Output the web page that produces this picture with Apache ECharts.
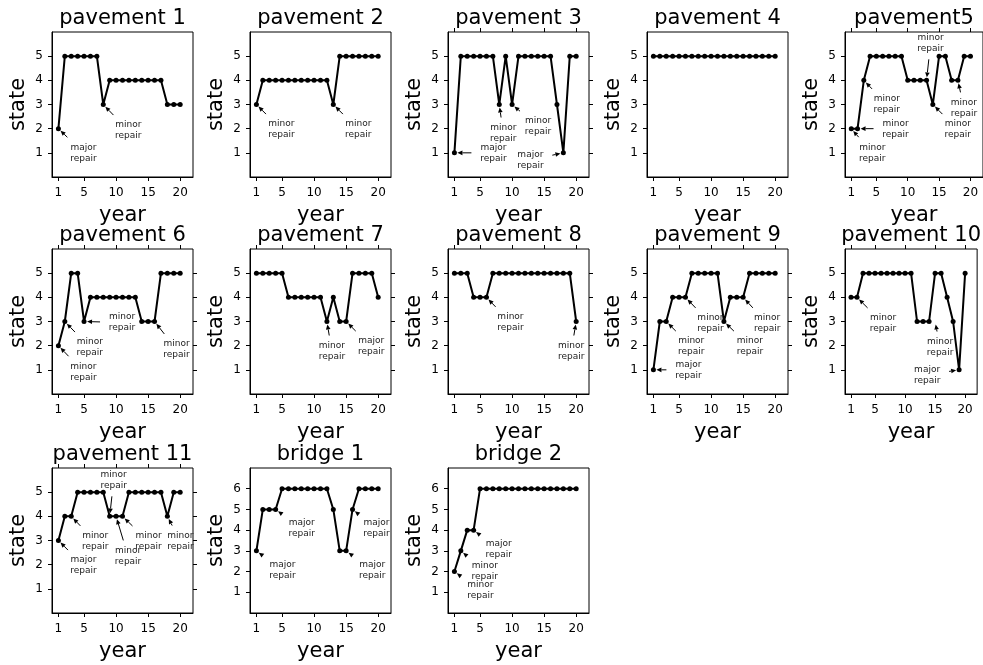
<!DOCTYPE html>
<html><head><meta charset="utf-8">
<script src="https://cdn.jsdelivr.net/npm/echarts@6/dist/echarts.min.js"></script>
<style>html,body{margin:0;padding:0;background:#fff}#c{width:983px;height:665px}</style>
</head><body><div id="c"></div>
<script>
const titles = ['pavement 1','pavement 2','pavement 3','pavement 4','pavement5',
  'pavement 6','pavement 7','pavement 8','pavement 9','pavement 10',
  'pavement 11','bridge 1','bridge 2'];
const years = [1,2,3,4,5,6,7,8,9,10,11,12,13,14,15,16,17,18,19,20];
const xTicks = [1,5,10,15,20];
const pavementTicks = [1,2,3,4,5];
const bridgeTicks = [1,2,3,4,5,6];

const pavement1  = [2,5,5,5,5,5,5,3,4,4,4,4,4,4,4,4,4,3,3,3];
const pavement2  = [3,4,4,4,4,4,4,4,4,4,4,4,3,5,5,5,5,5,5,5];
const pavement3  = [1,5,5,5,5,5,5,3,5,3,5,5,5,5,5,5,3,1,5,5];
const pavement4  = [5,5,5,5,5,5,5,5,5,5,5,5,5,5,5,5,5,5,5,5];
const pavement5  = [2,2,4,5,5,5,5,5,5,4,4,4,4,3,5,5,4,4,5,5];
const pavement6  = [2,3,5,5,3,4,4,4,4,4,4,4,4,3,3,3,5,5,5,5];
const pavement7  = [5,5,5,5,5,4,4,4,4,4,4,3,4,3,3,5,5,5,5,4];
const pavement8  = [5,5,5,4,4,4,5,5,5,5,5,5,5,5,5,5,5,5,5,3];
const pavement9  = [1,3,3,4,4,4,5,5,5,5,5,3,4,4,4,5,5,5,5,5];
const pavement10 = [4,4,5,5,5,5,5,5,5,5,5,3,3,3,5,5,4,3,1,5];
const pavement11 = [3,4,4,5,5,5,5,5,4,4,4,5,5,5,5,5,5,4,5,5];
const bridge1    = [3,5,5,5,6,6,6,6,6,6,6,6,5,3,3,5,6,6,6,6];
const bridge2    = [2,3,4,4,6,6,6,6,6,6,6,6,6,6,6,6,6,6,6,6];

const allSeries = [pavement1,pavement2,pavement3,pavement4,pavement5,pavement6,pavement7,
  pavement8,pavement9,pavement10,pavement11,bridge1,bridge2];
const yMaxes = [6,6,6,6,6,6,6,6,6,6,6,7,7];

// annotations: [text, x, y, text offset dx (px), text offset dy (px)]
const annotations = [
  [['major\nrepair',1,2,25,24],['minor\nrepair',8,3,25,26]],
  [['minor\nrepair',1,3,25,25],['minor\nrepair',13,3,25,25]],
  [['major\nrepair',1,1,39,0],['minor\nrepair',8,3,4,29],['minor\nrepair',10,3,26,22],['major\nrepair',18,1,-33,7]],
  [],
  [['minor\nrepair',1,2,21,24],['minor\nrepair',2,2,38,0],['minor\nrepair',3,4,23,24],['minor\nrepair',13,4,4,-37],['minor\nrepair',14,3,25,25],['minor\nrepair',18,4,6,28]],
  [['minor\nrepair',1,2,25,26],['minor\nrepair',2,3,25,26],['minor\nrepair',5,3,38,1],['minor\nrepair',16,3,22,28]],
  [['minor\nrepair',12,3,5,30],['major\nrepair',15,3,25,25]],
  [['minor\nrepair',6,4,24,25],['minor\nrepair',20,3,-5,30]],
  [['major\nrepair',1,1,35,0],['minor\nrepair',3,3,25,25],['minor\nrepair',6,4,25,26],['minor\nrepair',12,3,26,25],['minor\nrepair',15,4,24,26]],
  [['minor\nrepair',2,4,26,26],['minor\nrepair',15,3,5,26],['major\nrepair',19,1,-32,5]],
  [['major\nrepair',1,3,25,25],['minor\nrepair',3,4,24,25],['minor\nrepair',9,4,4,-36],['minor\nrepair',10,4,12,40],['minor\nrepair',11,4,26,25],['minor\nrepair',18,4,13,25]],
  [['major\nrepair',1,3,26,19],['major\nrepair',4,5,26,19],['major\nrepair',15,3,26,19],['major\nrepair',16,5,24,19]],
  [['minor\nrepair',1,2,26,19],['minor\nrepair',2,3,24,20],['major\nrepair',4,4,25,19]]
];
const topTicks   = [false,false,true,false,true,true,true,true,true,true,true,false,false];
const rightTicks = [false,false,true,false,false,true,true,true,true,false,true,false,false];

const colLeft = [52,250,448,647,845];
const rowTop = [32,249,468];
const GW = 141, GH = 145;
const FONT = 'DejaVu Sans';

const grids = [], xAxes = [], yAxes = [], series = [];
allSeries.forEach((vals, i) => {
  const row = Math.floor(i/5), col = i%5;
  grids.push({left: colLeft[col], top: rowTop[row], width: GW, height: GH,
    show: true, borderColor: '#000', borderWidth: 1, backgroundColor: '#fff', containLabel: false});
  xAxes.push({gridIndex: i, type: 'value', min: 0, max: 22, position: 'bottom',
    axisLine: {show: true, onZero: false, lineStyle: {color: '#000', width: 1}},
    axisTick: {show: true, inside: false, length: 4, customValues: xTicks, lineStyle: {color: '#000'}},
    axisLabel: {customValues: xTicks, fontSize: 12, color: '#000', margin: 10, fontFamily: FONT},
    splitLine: {show: false},
    name: 'year', nameLocation: 'middle', nameGap: 28,
    nameTextStyle: {fontSize: 21, color: '#000', fontFamily: FONT}});
  xAxes.push({gridIndex: i, type: 'value', min: 0, max: 22, position: 'top',
    axisLine: {show: false, onZero: false},
    axisTick: {show: topTicks[i], inside: false, length: 4, customValues: xTicks, lineStyle: {color: '#000'}},
    axisLabel: {show: false}, splitLine: {show: false},
    name: titles[i], nameLocation: 'middle', nameGap: 3,
    nameTextStyle: {fontSize: 21, color: '#000', fontFamily: FONT}});
  const yt = yMaxes[i] === 7 ? bridgeTicks : pavementTicks;
  yAxes.push({gridIndex: i, type: 'value', min: 0, max: yMaxes[i], position: 'left',
    axisLine: {show: true, onZero: false, lineStyle: {color: '#000', width: 1}},
    axisTick: {show: true, inside: false, length: 4, customValues: yt, lineStyle: {color: '#000'}},
    axisLabel: {customValues: yt, fontSize: 12, color: '#000', margin: 9, fontFamily: FONT},
    splitLine: {show: false},
    name: 'state', nameLocation: 'middle', nameGap: 23,
    nameTextStyle: {fontSize: 21, color: '#000', fontFamily: FONT}});
  yAxes.push({gridIndex: i, type: 'value', min: 0, max: yMaxes[i], position: 'right',
    axisLine: {show: false, onZero: false},
    axisTick: {show: rightTicks[i], inside: false, length: 4, customValues: yt, lineStyle: {color: '#000'}},
    axisLabel: {show: false}, splitLine: {show: false}});
  series.push({type: 'line', xAxisIndex: 2*i, yAxisIndex: 2*i,
    data: years.map((y, k) => [y, vals[k]]),
    symbol: 'circle', symbolSize: 5, showSymbol: true, showAllSymbol: true,
    itemStyle: {color: '#000'}, lineStyle: {color: '#000', width: 2},
    clip: false, silent: true});
});

const chart = echarts.init(document.getElementById('c'), null, {renderer: 'canvas'});
chart.setOption({
  animation: false, backgroundColor: '#fff',
  textStyle: {fontFamily: FONT},
  grid: grids, xAxis: xAxes, yAxis: yAxes, series: series
});

// annotations placed through the axes' own pixel conversion
const graphics = [];
annotations.forEach((list, i) => {
  list.forEach(([text, x, y, dx, dy]) => {
    const p = chart.convertToPixel({xAxisIndex: 2*i, yAxisIndex: 2*i}, [x, y]);
    const cx = p[0] + dx, cy = p[1] + dy;
    graphics.push({type: 'text', x: cx, y: cy, z: 100,
      style: {text: text, fill: '#222', font: '9px "DejaVu Sans"', lineHeight: 11,
        align: 'center', verticalAlign: 'middle', textAlign: 'center', textVerticalAlign: 'middle'}});
    const hw = 20, hh = 14;
    const rx = dx ? hw/Math.abs(dx) : Infinity;
    const ry = dy ? hh/Math.abs(dy) : Infinity;
    const u = 1 - Math.min(rx, ry);
    const len = Math.hypot(dx, dy);
    if (u <= 0 || len === 0) return;
    const ux = dx/len, uy = dy/len;
    const tipD = 3, headL = 5, headW = 2.3;
    const startD = Math.max(u*len - 2, tipD + headL);
    const tip = [p[0] + ux*tipD, p[1] + uy*tipD];
    const base = [p[0] + ux*(tipD+headL), p[1] + uy*(tipD+headL)];
    if (startD > tipD + headL) {
      graphics.push({type: 'line', z: 100,
        shape: {x1: p[0] + ux*startD, y1: p[1] + uy*startD, x2: base[0], y2: base[1]},
        style: {stroke: '#000', lineWidth: 1}});
    }
    graphics.push({type: 'polygon', z: 100,
      shape: {points: [tip, [base[0] - uy*headW, base[1] + ux*headW], [base[0] + uy*headW, base[1] - ux*headW]]},
      style: {fill: '#000'}});
  });
});
chart.setOption({graphic: graphics});
</script></body></html>
